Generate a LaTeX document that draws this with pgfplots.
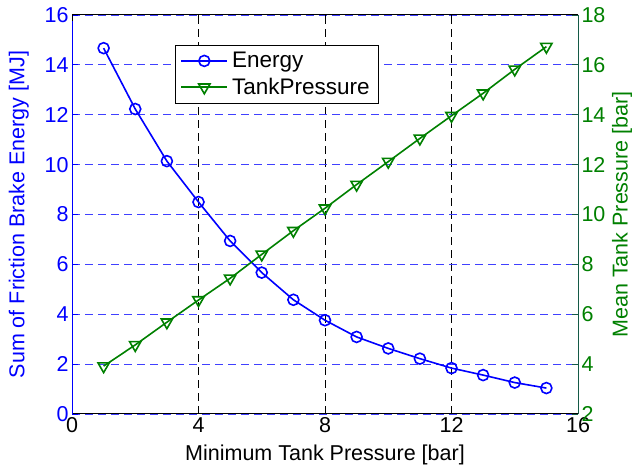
\documentclass[border=0pt]{standalone}
\usepackage{fontspec}
\setmainfont{Liberation Sans}
\usepackage{pgfplots}
\pgfplotsset{compat=1.18}
\definecolor{mblue}{RGB}{0,0,255}
\definecolor{mgreen}{RGB}{0,128,0}
\definecolor{mteal}{RGB}{20,90,70}
\pgfplotstableread{
x y
1 14.67
2 12.23
3 10.14
4 8.50
5 6.94
6 5.67
7 4.58
8 3.76
9 3.09
10 2.63
11 2.22
12 1.84
13 1.56
14 1.26
15 1.04
}\energy
\pgfplotstableread{
x y
1 3.92
2 4.77
3 5.68
4 6.57
5 7.44
6 8.40
7 9.35
8 10.25
9 11.20
10 12.12
11 13.05
12 13.96
13 14.86
14 15.82
15 16.73
}\tank
\begin{document}
\begin{tikzpicture}
\pgfplotsset{
  common/.style={
    scale only axis, width=506pt, height=399pt,
    xmin=0, xmax=16, xtick={0,4,...,16},
    tick align=inside, major tick length=6pt,
    every tick/.style={line width=0.8pt},
    /pgf/number format/assume math mode=true,
    tick label style={font=\fontsize{21.5}{24}\selectfont},
    label style={font=\fontsize{21.5}{24}\selectfont},
    axis line style={-, line width=1pt},
  }
}
\begin{axis}[common, name=ax1,
  ymin=0, ymax=16, ytick={0,2,...,16},
  axis x line*=bottom, axis y line*=left,
  y axis line style={mblue},
  yticklabel style={mblue},
  ytick style={mblue},
  xtick style={black},
  ymajorgrids, xmajorgrids,
  major y grid style={dash pattern=on 8pt off 5pt, mblue!75, line width=0.9pt},
  major x grid style={dash pattern=on 8pt off 5pt, black, line width=0.9pt},
  xlabel={Minimum Tank Pressure [bar]},
  xlabel style={at={(axis description cs:0.5,-0.103)}, anchor=center},
  ylabel={Sum of Friction Brake Energy [MJ]},
  ylabel style={mblue, at={(axis description cs:-0.105,0.5)}, anchor=center},
]
\addplot[mblue, line width=1.6pt, mark=o, mark size=5.5pt, mark options={line width=1.6pt}] table[x=x,y=y] {\energy};
\end{axis}
\begin{axis}[common,
  ymin=2, ymax=18, ytick={2,4,...,18},
  axis x line*=top, xticklabels={}, 
  axis y line*=right,
  y axis line style={mteal},
  yticklabel style={mgreen},
  ytick style={mteal},
  ylabel={Mean Tank Pressure [bar]},
  ylabel style={mgreen, at={(axis description cs:1.087,0.5)}, anchor=center},
  legend style={at={(axis description cs:0.2036,0.925)}, anchor=north west,
    draw=black, line width=1pt, fill=white, font=\fontsize{22.5}{25}\selectfont,
    inner xsep=5pt, inner ysep=5pt, row sep=5pt,
    nodes={inner xsep=4pt}},
  legend cell align=left,
  legend image code/.code={\draw[mark repeat=2, mark phase=2] plot coordinates {(0pt,0pt) (23pt,0pt) (46pt,0pt)};},
]
\addlegendimage{mblue, line width=1.6pt, mark=o, mark size=5.5pt, mark options={line width=1.6pt}}
\addlegendentry{Energy}
\addplot[mgreen, line width=1.6pt, mark=triangle, mark size=6.5pt, mark options={rotate=180, line width=1.6pt}] table[x=x,y=y] {\tank};
\addlegendentry{TankPressure}
\end{axis}
\pgfresetboundingbox
\path (ax1.south west) ++(-72pt,-56pt) rectangle ++(634pt,470pt);
\end{tikzpicture}
\end{document}
